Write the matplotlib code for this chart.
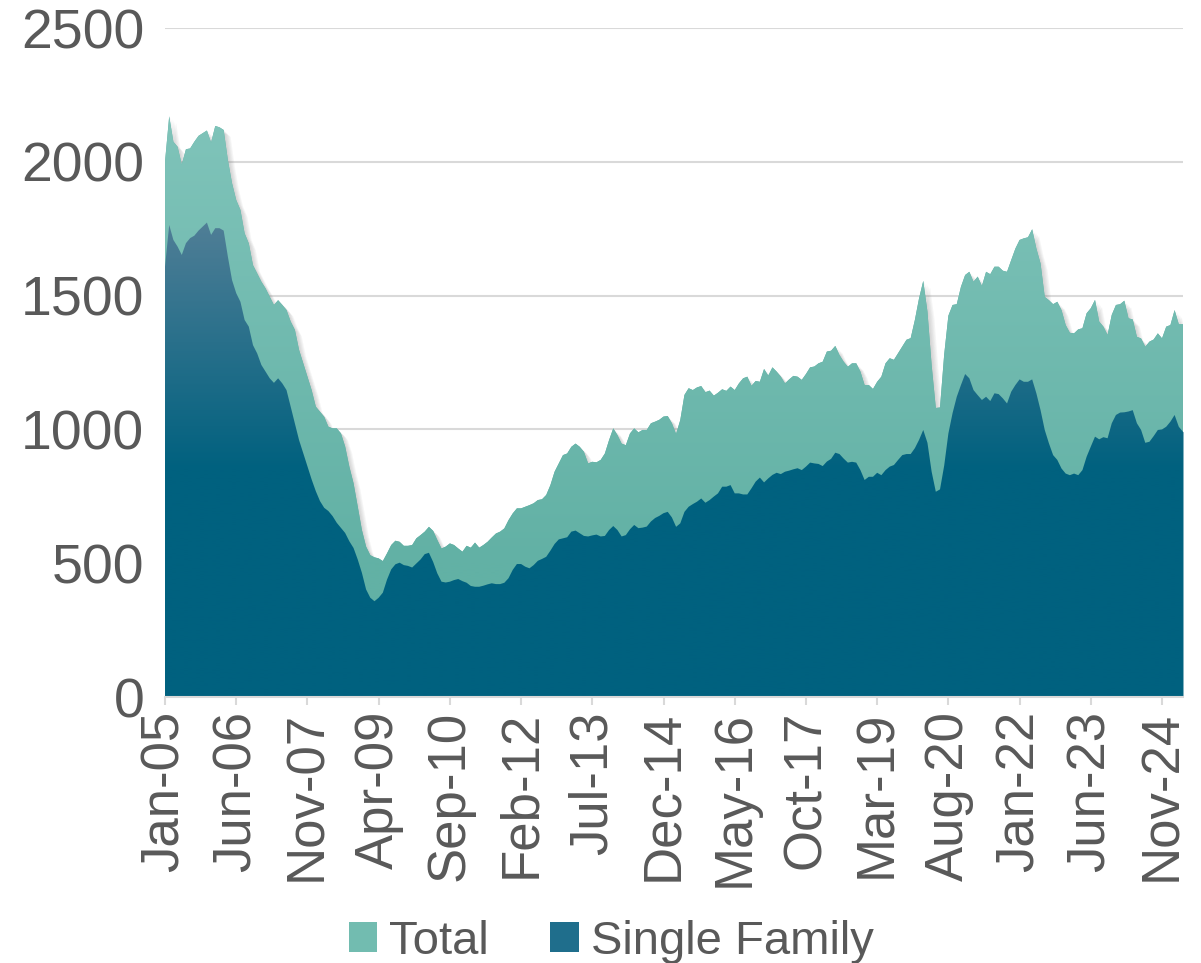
import numpy as np
import matplotlib
matplotlib.use("Agg")
import matplotlib.pyplot as plt
from matplotlib.colors import LinearSegmentedColormap
from matplotlib.patches import Patch
import matplotlib.patheffects as pe

plt.rcParams['font.family'] = ['Liberation Sans', 'DejaVu Sans']

# monthly values, Jan-05 .. Apr-25 (thousands)
total = [
    2000, 2170, 2075, 2056, 1990, 2047, 2050, 2075, 2097, 2107,
    2117, 2072, 2134, 2129, 2119, 2007, 1920, 1857, 1820, 1733,
    1695, 1614, 1583, 1552, 1527, 1496, 1465, 1483, 1465, 1446,
    1403, 1372, 1297, 1247, 1197, 1147, 1085, 1066, 1047, 1010,
    1004, 1004, 985, 936, 861, 799, 712, 624, 562, 530,
    522, 518, 508, 537, 568, 584, 580, 565, 565, 568,
    593, 605, 618, 636, 621, 587, 555, 562, 574, 568,
    555, 543, 565, 558, 577, 558, 568, 580, 596, 611,
    618, 630, 661, 686, 705, 705, 711, 717, 724, 736,
    739, 755, 792, 842, 873, 904, 910, 935, 947, 935,
    916, 873, 879, 877, 886, 910, 960, 1004, 979, 947,
    941, 985, 1004, 989, 998, 998, 1023, 1029, 1036, 1048,
    1050, 1023, 983, 1035, 1129, 1154, 1147, 1157, 1162, 1139,
    1145, 1126, 1137, 1150, 1144, 1160, 1147, 1172, 1191, 1197,
    1163, 1181, 1178, 1226, 1201, 1232, 1216, 1197, 1172, 1187,
    1200, 1197, 1185, 1207, 1232, 1235, 1247, 1253, 1291, 1294,
    1312, 1278, 1253, 1234, 1247, 1247, 1216, 1166, 1166, 1151,
    1178, 1197, 1247, 1266, 1260, 1285, 1310, 1335, 1341, 1409,
    1490, 1555, 1440, 1240, 1080, 1082, 1280, 1425, 1465, 1468,
    1533, 1577, 1589, 1552, 1571, 1536, 1589, 1580, 1608, 1608,
    1593, 1589, 1633, 1676, 1708, 1714, 1718, 1748, 1676, 1620,
    1495, 1483, 1468, 1477, 1446, 1390, 1361, 1359, 1374, 1378,
    1434, 1453, 1484, 1403, 1384, 1353, 1428, 1465, 1468, 1481,
    1415, 1411, 1346, 1340, 1309, 1328, 1336, 1359, 1340, 1384,
    1390, 1446, 1393, 1393,
]

single_family = [
    1608, 1764, 1708, 1683, 1652, 1696, 1715, 1724, 1743, 1758,
    1773, 1727, 1752, 1752, 1743, 1646, 1558, 1509, 1477, 1409,
    1384, 1315, 1284, 1241, 1216, 1191, 1174, 1191, 1172, 1147,
    1085, 1022, 960, 911, 862, 813, 769, 732, 707, 695,
    676, 651, 632, 613, 582, 557, 514, 464, 402, 371,
    358, 371, 390, 439, 477, 496, 502, 493, 490, 484,
    499, 514, 534, 539, 505, 462, 431, 428, 431, 437,
    441, 433, 427, 415, 412, 412, 416, 421, 425, 422,
    422, 427, 444, 475, 497, 497, 487, 481, 493, 509,
    516, 524, 547, 572, 589, 593, 597, 618, 622, 612,
    602, 600, 604, 607, 600, 602, 624, 639, 624, 600,
    605, 627, 643, 631, 633, 637, 656, 669, 677, 687,
    692, 671, 636, 649, 692, 711, 721, 730, 742, 726,
    736, 749, 761, 786, 786, 792, 761, 761, 757, 757,
    780, 805, 820, 802, 817, 830, 838, 833, 842, 846,
    851, 855, 848, 861, 876, 873, 871, 863, 880, 890,
    913, 908, 891, 876, 879, 876, 848, 811, 823, 823,
    838, 829, 848, 861, 867, 886, 904, 908, 908, 930,
    961, 998, 950, 842, 767, 776, 865, 985, 1061, 1122,
    1166, 1207, 1191, 1147, 1128, 1110, 1122, 1106, 1135, 1132,
    1116, 1097, 1141, 1166, 1187, 1178, 1178, 1187, 1135, 1072,
    998, 948, 904, 886, 854, 835, 829, 835, 829, 848,
    898, 936, 973, 963, 971, 967, 1023, 1054, 1063, 1064,
    1067, 1072, 1023, 998, 950, 954, 975, 998, 1000, 1010,
    1029, 1054, 1010, 991,
]

tick_labels = ['Jan-05', 'Jun-06', 'Nov-07', 'Apr-09', 'Sep-10', 'Feb-12',
               'Jul-13', 'Dec-14', 'May-16', 'Oct-17', 'Mar-19', 'Aug-20',
               'Jan-22', 'Jun-23', 'Nov-24']

TEXT = '#595959'
GRID = '#D9D9D9'

x = np.arange(len(total))
total = np.array(total)
single_family = np.array(single_family)

fig = plt.figure(figsize=(12.01, 9.63), dpi=100)
ax = fig.add_axes([0.1374, 0.2762, 0.8476, 0.6947])

ymax = 2500

def gradient_fill(ax, y, c_top, c_bot, v_top, v_bot, shadow=False):
    poly = ax.fill_between(x, 0, y, color=c_bot, lw=0, zorder=2)
    if shadow:
        poly.set_path_effects([pe.SimplePatchShadow(offset=(d, -d), shadow_rgbFace='#7a7a7a', alpha=0.07)
                               for d in (1, 2, 3, 4, 5)] + [pe.Normal()])
    cmap = LinearSegmentedColormap.from_list('g', [c_bot, c_top])
    rows = np.linspace(0, ymax, 400)
    vals = np.clip((rows - v_bot) / (v_top - v_bot), 0, 1)
    img = cmap(vals)[:, None, :]
    im = ax.imshow(img, extent=[x[0], x[-1], 0, ymax], origin='lower',
                   aspect='auto', zorder=3, interpolation='bilinear')
    im.set_clip_path(poly.get_paths()[0], transform=ax.transData)
    return poly

gradient_fill(ax, total, '#80C4BA', '#62B1A5', 2200, 500, shadow=True)
gradient_fill(ax, single_family, '#527F97', '#00617F', 1800, 850)

ax.set_xlim(x[0], x[-1])
ax.set_ylim(0, ymax)
ax.set_yticks(np.arange(0, ymax + 1, 500))
ax.grid(axis='y', color=GRID, lw=1.5, zorder=1)
ax.set_axisbelow(True)

ax.set_xticks(np.arange(0, len(x), 17))
ax.set_xticklabels(tick_labels, rotation=90)
ax.tick_params(axis='x', colors=TEXT, labelsize=38, length=6, color=GRID, width=1.5, pad=4)
ax.tick_params(axis='y', colors=TEXT, labelsize=40, length=0, pad=15)

for s in ['top', 'right', 'left']:
    ax.spines[s].set_visible(False)
ax.spines['bottom'].set_color(GRID)
ax.spines['bottom'].set_linewidth(1.5)
ax.spines['bottom'].set_zorder(5)

handles = [Patch(facecolor='#72BCB0', label='Total'),
           Patch(facecolor='#1F6E8C', label='Single Family')]
fig.legend(handles=handles, loc='center', bbox_to_anchor=(0.509, 0.022), ncol=2,
           frameon=False, fontsize=34, labelcolor=TEXT, handlelength=0.6,
           handleheight=0.6, handletextpad=0.25, columnspacing=1.3)

fig.savefig('out.png', dpi=100)
